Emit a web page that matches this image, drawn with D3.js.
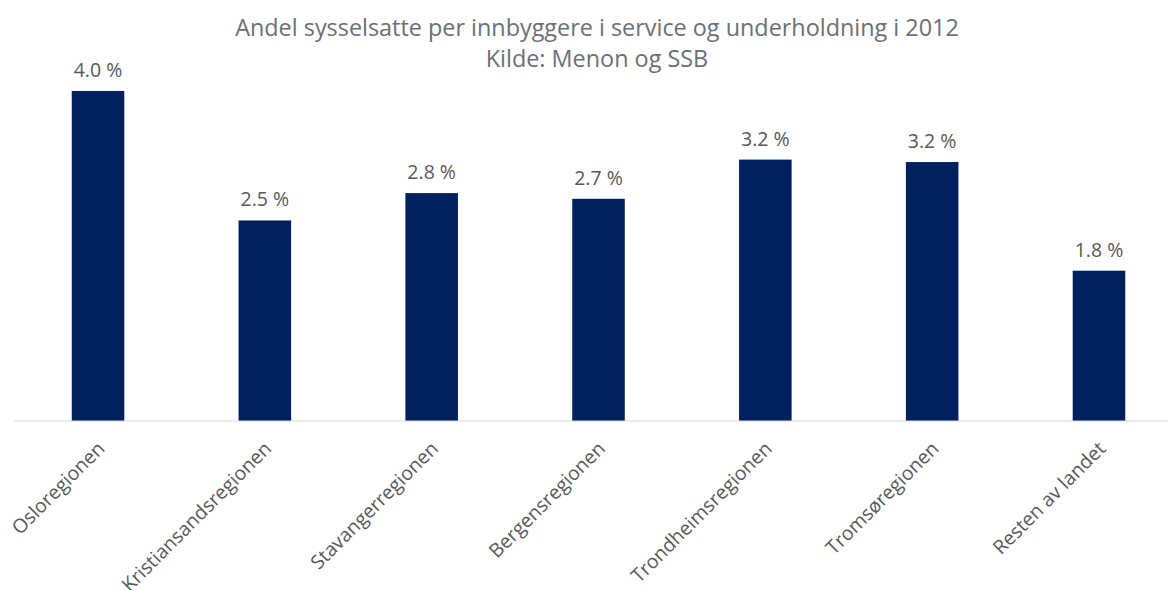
<!DOCTYPE html>
<html>
<head>
<meta charset="utf-8">
<script src="https://cdn.jsdelivr.net/npm/d3@7"></script>
<style>
  body { margin: 0; background: #fff; }
  svg text { font-family: "Open Sans", "Noto Sans", sans-serif; fill: #595959; }
</style>
</head>
<body>
<div id="chart"></div>
<script>
// data
const regions = ["Osloregionen", "Kristiansandsregionen", "Stavangerregionen", "Bergensregionen",
                 "Trondheimsregionen", "Tromsøregionen", "Resten av landet"];
const shares = [4.04, 2.455, 2.79, 2.72, 3.20, 3.17, 1.84];
const titleLines = ["Andel sysselsatte per innbyggere i service og underholdning i 2012", "Kilde: Menon og SSB"];

const width = 1168, height = 590;

const svg = d3.select("#chart")
    .append("svg")
    .attr("width", width)
    .attr("height", height);

const x = d3.scaleBand()
    .domain(regions)
    .range([14.6, 1182.4])
    .padding(0);

const y = d3.scaleLinear()
    .domain([0, 4.5])
    .range([421, 53.4]);

const barW = x.bandwidth() * 0.315;

// Title
svg.selectAll(".title")
    .data(titleLines)
    .enter()
    .append("text")
    .attr("class", "title")
    .attr("x", 597)
    .attr("y", (d, i) => 36 + i * 31)
    .attr("text-anchor", "middle")
    .style("font-size", "23.4px")
    .style("fill", "#6b7075")
    .text(d => d);

// Bars
svg.selectAll(".bar")
    .data(shares)
    .enter()
    .append("rect")
    .attr("class", "bar")
    .attr("x", (d, i) => x(regions[i]) + (x.bandwidth() - barW) / 2)
    .attr("y", d => y(d))
    .attr("width", barW)
    .attr("height", d => y(0) - y(d))
    .attr("fill", "#002060");

// Value labels
svg.selectAll(".label")
    .data(shares)
    .enter()
    .append("text")
    .attr("class", "label")
    .attr("x", (d, i) => x(regions[i]) + x.bandwidth() / 2)
    .attr("y", d => y(d) - 14)
    .attr("text-anchor", "middle")
    .style("font-size", "19.5px")
    .text(d => `${d.toFixed(1)} %`);

// X axis
const xAxis = svg.append("g")
    .attr("transform", `translate(0,${y(0)})`)
    .call(d3.axisBottom(x).tickSize(0).tickPadding(0));

xAxis.select(".domain").remove();
xAxis.append("line")
    .attr("x1", 14)
    .attr("x2", width)
    .attr("stroke", "#d9d9d9")
    .attr("stroke-width", 1);

xAxis.selectAll(".tick text")
    .attr("transform", "translate(3,24) rotate(-45)")
    .attr("dy", "0.35em")
    .style("text-anchor", "end")
    .style("font-size", "19.4px")
    .style("fill", "#595959")
    .style("font-family", "\"Open Sans\", \"Noto Sans\", sans-serif");
</script>
</body>
</html>
